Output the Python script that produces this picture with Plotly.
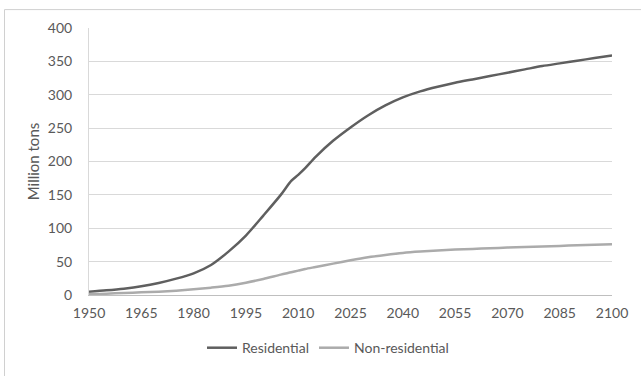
import plotly.graph_objects as go

years = [1950, 1955, 1960, 1965, 1970, 1975, 1980, 1985, 1990, 1995, 2000, 2005, 2008,
         2010, 2012, 2015, 2020, 2025, 2030, 2035, 2040, 2045, 2050, 2055, 2060, 2065,
         2070, 2075, 2080, 2085, 2090, 2095, 2100]
residential = [5, 7, 9.5, 13, 18, 24.5, 32.5, 45, 65, 89, 119, 150, 171,
               180, 190, 207, 231, 251, 269, 284, 296, 305, 312, 318, 323, 328,
               333, 338, 343, 347, 351, 355, 359]
non_residential = [1.5, 2, 3, 4, 5, 6.5, 8.5, 11, 14, 18.5, 24, 30.5, 34,
                   36.5, 39, 42, 47, 52, 56.5, 60, 63, 65, 66.5, 68, 69, 70,
                   71, 72, 72.8, 73.5, 74.5, 75.2, 76]
x_ticks = list(range(1950, 2101, 15))
y_ticks = list(range(0, 401, 50))

W, H = 641, 376
L, R, T, B = 89, 29, 28, 78
pw, ph = W - L - R, H - T - B

font = dict(family="Lato, 'Open Sans', sans-serif", size=14, color="#595959")
title_font = dict(family="Lato, 'Open Sans', sans-serif", size=15, color="#595959")

fig = go.Figure()
fig.add_trace(go.Scatter(x=years, y=residential, mode="lines", name="Residential",
                         line=dict(color="#5f5f5f", width=2.5, shape="spline", smoothing=0.8)))
fig.add_trace(go.Scatter(x=years, y=non_residential, mode="lines", name="Non-residential",
                         line=dict(color="#ababab", width=2.5, shape="spline", smoothing=0.8)))

fig.update_layout(
    width=W, height=H,
    margin=dict(l=L, r=R, t=T, b=B, pad=0),
    paper_bgcolor="white", plot_bgcolor="white",
    font=font,
    showlegend=True,
    legend=dict(orientation="h", x=0.457, xanchor="center", y=(298.3 - 352) / ph, yanchor="middle",
                font=font, itemwidth=30, tracegroupgap=0),
    xaxis=dict(range=[1950, 2100], tickvals=x_ticks, ticktext=[str(v) for v in x_ticks],
               showgrid=False, zeroline=False, showline=True, linecolor="#bfbfbf", linewidth=1,
               ticks="", tickfont=font, ticklabelstandoff=5),
    yaxis=dict(range=[0, 400], tickvals=y_ticks, showgrid=True, gridcolor="#d9d9d9", gridwidth=1,
               zeroline=False, showline=True, linecolor="#d9d9d9", linewidth=1,
               ticks="", tickfont=font,
               title=dict(text="Million tons", font=title_font, standoff=4), ticklabelstandoff=13),
    shapes=[dict(type="rect", xref="paper", yref="paper",
                 x0=(4.5 - L) / pw, x1=(W + 5 - L) / pw,
                 y0=(298.3 - (H + 5)) / ph, y1=(298.3 - 9.7) / ph,
                 line=dict(color="#d0d0d0", width=1), layer="above")],
)
fig.write_html("out.html", config={"displayModeBar": False},
               post_script="document.body.style.margin='0';document.body.style.padding='0';")
